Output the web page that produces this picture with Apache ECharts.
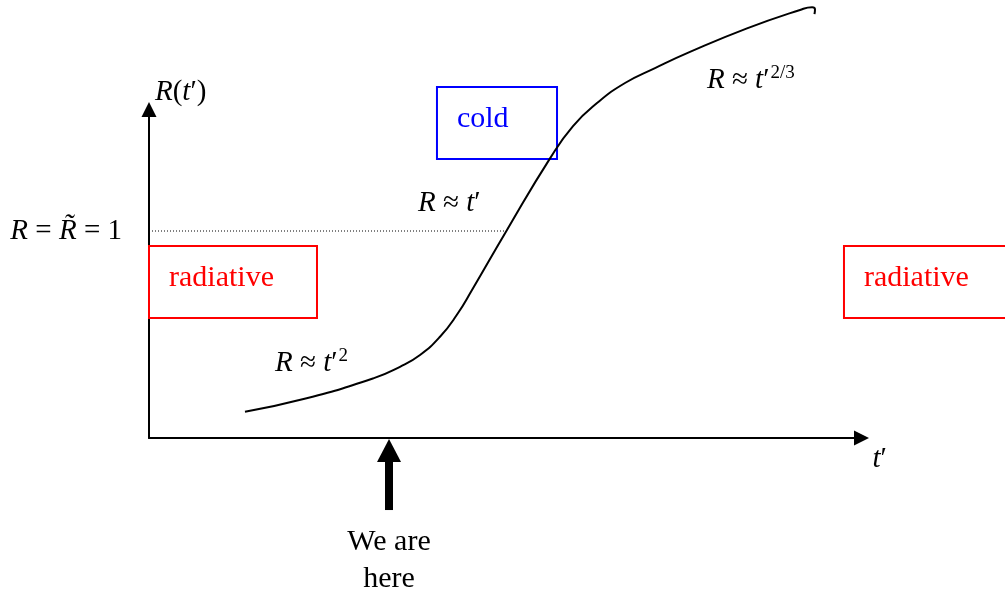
<!DOCTYPE html>
<html>
<head>
<meta charset="utf-8">
<script src="https://cdn.jsdelivr.net/npm/echarts@6/dist/echarts.min.js"></script>
<style>
  html, body { margin: 0; padding: 0; background: #fff; }
  #chart { width: 1005px; height: 592px; }
</style>
</head>
<body>
<div id="chart"></div>
<script>
// t' and R(t') (R = 1 at the dotted line)
const curveT = [1.331, 2.187, 3.111, 3.481, 3.759, 4.036, 4.268, 4.480, 4.965, 5.562, 5.881, 6.214, 6.602, 7.018, 7.503, 8.294, 9.029, 9.196, 9.237, 9.230]
const curveR = [0.127, 0.192, 0.288, 0.344, 0.401, 0.489, 0.594, 0.715, 1.005, 1.351, 1.507, 1.618, 1.715, 1.787, 1.865, 1.979, 2.068, 2.081, 2.070, 2.048]

// R = R~ = 1 reference and where it meets the curve
const refR = 1
const refT = 4.965

// regime boxes: [t0, R0, t1, R1]
const boxNames = ['radiative', 'cold', 'radiative']
const boxRanges = [
  [0, 0.928, 2.330, 0.580],
  [3.994, 1.696, 5.659, 1.348],
  [9.639, 0.928, 11.97, 0.580]
]
const boxColors = ['#ff0000', '#0000ff', '#ff0000']

// power-law annotations
const noteText = [
  '{i|R}{n| ≈ }{i|t}{n|′}{s|2}',
  '{i|R}{n| ≈ }{i|t}{n|′}',
  '{i|R}{n| ≈ }{i|t}{n|′}{s|2/3}'
]
const noteT = [1.748, 3.731, 7.739]
const noteR = [0.362, 1.135, 1.729]

// "we are here" marker
const hereT = 3.329
const hereR = [-0.348, -0.060]
const hereLabelR = -0.592

const xMax = 9.882
const yMax = 1.587

const serif = '"Liberation Serif", "Times New Roman", serif'
const mathRich = {
  n: { fontFamily: serif, fontSize: 29, color: '#000' },
  i: { fontFamily: serif, fontSize: 29, fontStyle: 'italic', color: '#000' },
  s: { fontFamily: serif, fontSize: 19, color: '#000', padding: [0, 0, 15, 1] }
}

const chart = echarts.init(document.getElementById('chart'))

const option = {
  animation: false,
  backgroundColor: '#fff',
  grid: { left: 149, right: 143.5, top: 109.5, bottom: 154 },
  xAxis: {
    type: 'value',
    min: 0,
    max: xMax,
    name: '{i|t}{n|′}',
    nameGap: 11,
    nameTextStyle: {
      fontFamily: serif, fontSize: 29, color: '#000',
      verticalAlign: 'middle', padding: [42, 0, 0, 0],
      rich: mathRich
    },
    axisLine: {
      lineStyle: { color: '#000', width: 2 },
      symbol: ['none', 'triangle'],
      symbolSize: [15, 15]
    },
    axisTick: { show: false },
    axisLabel: { show: false },
    splitLine: { show: false }
  },
  yAxis: {
    type: 'value',
    min: 0,
    max: yMax,
    interval: 0.5,
    name: '{i|R}{n|(}{i|t}{n|′)}',
    nameGap: 3,
    nameTextStyle: {
      fontFamily: serif, fontSize: 29, color: '#000',
      align: 'left', verticalAlign: 'bottom', padding: [0, 0, 0, 6],
      rich: mathRich
    },
    axisLine: {
      show: true,
      lineStyle: { color: '#000', width: 2 },
      symbol: ['none', 'triangle'],
      symbolSize: [15, 15]
    },
    axisTick: { show: false },
    splitLine: { show: false },
    axisLabel: {
      margin: 27,
      showMaxLabel: false,
      fontFamily: serif,
      fontSize: 29,
      color: '#000',
      formatter: function (v) {
        return v === refR ? '{i|R}{n| = }{i|R̃}{n| = 1}' : ''
      },
      rich: mathRich
    }
  },
  series: [
    {
      type: 'line',
      data: curveT.map((t, i) => [t, curveR[i]]),
      smooth: 0.5,
      symbol: 'none',
      clip: false,
      lineStyle: { color: '#000', width: 2 }
    },
    {
      type: 'line',
      data: [[0, refR], [refT, refR]],
      symbol: 'none',
      lineStyle: { color: '#000', width: 1, type: [1, 2] }
    },
    {
      type: 'custom',
      clip: false,
      data: boxRanges,
      renderItem: function (params, api) {
        const p0 = api.coord([api.value(0), api.value(1)])
        const p1 = api.coord([api.value(2), api.value(3)])
        const c = boxColors[params.dataIndex]
        return {
          type: 'group',
          children: [
            {
              type: 'rect',
              shape: { x: p0[0], y: p0[1], width: p1[0] - p0[0], height: p1[1] - p0[1] },
              style: { fill: 'none', stroke: c, lineWidth: 2 }
            },
            {
              type: 'text',
              x: p0[0] + 20,
              y: (p0[1] + p1[1]) / 2 - 4,
              style: {
                text: boxNames[params.dataIndex],
                fill: c,
                font: '30px ' + serif,
                verticalAlign: 'middle'
              }
            }
          ]
        }
      }
    },
    {
      type: 'scatter',
      clip: false,
      symbolSize: 0,
      itemStyle: { opacity: 1 },
      data: noteT.map((t, i) => ({
        value: [t, noteR[i]],
        label: { formatter: noteText[i] }
      })),
      label: {
        show: true,
        position: 'right',
        distance: 0,
        fontFamily: serif,
        fontSize: 29,
        color: '#000',
        rich: mathRich
      }
    },
    {
      type: 'line',
      clip: false,
      data: [
        { value: [hereT, hereR[0]], symbol: 'none' },
        { value: [hereT, hereR[1]], symbol: 'triangle', symbolSize: [24, 23] }
      ],
      showAllSymbol: true,
      itemStyle: { color: '#000' },
      lineStyle: { color: '#000', width: 8 }
    },
    {
      type: 'scatter',
      clip: false,
      symbolSize: 0,
      itemStyle: { opacity: 1 },
      data: [[hereT, hereLabelR]],
      label: {
        show: true,
        position: 'inside',
        formatter: 'We are\nhere',
        fontFamily: serif,
        fontSize: 30,
        lineHeight: 37,
        align: 'center',
        color: '#000'
      }
    }
  ]
}

chart.setOption(option)
window.addEventListener('resize', () => chart.resize())
</script>
</body>
</html>
